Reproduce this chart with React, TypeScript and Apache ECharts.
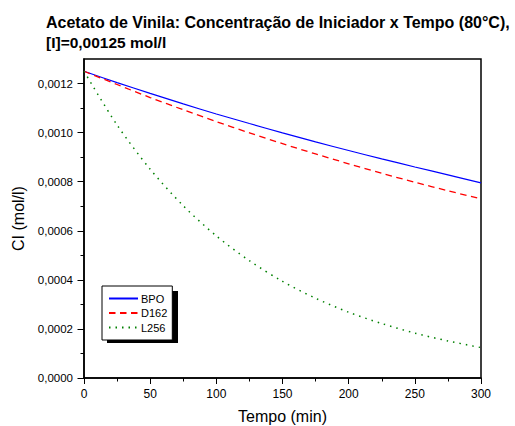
import React, { useEffect, useRef } from "react";
import * as echarts from "echarts";

const tempo = [0, 25, 50, 75, 100, 125, 150, 175, 200, 225, 250, 275, 300];
const bpo = [0.00125, 0.001204, 0.00116, 0.001117, 0.001076, 0.001037, 0.000999, 0.000962, 0.000927, 0.000893, 0.00086, 0.000828, 0.000795];
const d162 = [0.00125, 0.001196, 0.001143, 0.001093, 0.001045, 0.000999, 0.000955, 0.000913, 0.000873, 0.000834, 0.000798, 0.000763, 0.00073];
const l256 = [0.00125, 0.001031, 0.000851, 0.000702, 0.000579, 0.000478, 0.000394, 0.000325, 0.000268, 0.000222, 0.000183, 0.000151, 0.000124];
const yTicks = [0, 0.0002, 0.0004, 0.0006, 0.0008, 0.001, 0.0012];
const seriesNames = ["BPO", "D162", "L256"];
const titleLine1 = "Acetato de Vinila: Concentração de Iniciador x Tempo (80°C),";
const titleLine2 = "[I]=0,00125 mol/l";

const FONT = "'Liberation Sans', Arial, Helvetica, sans-serif";

export default function App() {
  const ref = useRef<HTMLDivElement>(null);
  useEffect(() => {
    if (!ref.current) return;
    const chart = echarts.init(ref.current, undefined, { renderer: "svg" });
    const pair = (ys: number[]) => tempo.map((t, i) => [t, ys[i]]);
    chart.setOption({
      animation: false,
      backgroundColor: "#fff",
      textStyle: { fontFamily: FONT },
      title: {
        text: `{a|${titleLine1}}\n{b|${titleLine2}}`,
        left: 46,
        top: 12,
        padding: 0,
        textStyle: {
          fontFamily: FONT,
          fontWeight: "bold",
          color: "#000",
          rich: {
            a: { fontFamily: FONT, fontSize: 16, fontWeight: "bold", color: "#000", lineHeight: 20.5 },
            b: { fontFamily: FONT, fontSize: 15.5, fontWeight: "bold", color: "#000", lineHeight: 20.5 },
          },
        },
      },
      grid: {
        left: 84,
        top: 59,
        right: 34,
        bottom: 48,
        outerBoundsMode: "none",
        containLabel: false,
        show: true,
        borderColor: "#000",
        borderWidth: 1.5,
        backgroundColor: "transparent",
      },
      legend: {
        orient: "vertical",
        left: 102,
        top: 286,
        data: seriesNames,
        backgroundColor: "#fff",
        borderColor: "#000",
        borderWidth: 1,
        padding: [7, 5, 7, 6],
        itemWidth: 29,
        itemHeight: 10,
        itemGap: 3.5,
        itemStyle: { opacity: 0, borderWidth: 0 },
        textStyle: { fontFamily: FONT, fontSize: 11, color: "#000", lineHeight: 10, padding: [0, 0, 0, -2] },
        z: 10,
      },
      graphic: [
        {
          type: "rect",
          shape: { x: 107, y: 291, width: 71, height: 52 },
          style: { fill: "#000" },
          z: 5,
        },
      ],
      xAxis: {
        type: "value",
        min: 0,
        max: 300,
        interval: 50,
        name: "Tempo (min)",
        nameLocation: "middle",
        nameGap: 30,
        nameTextStyle: { fontFamily: FONT, fontSize: 16, color: "#000" },
        axisLine: { lineStyle: { color: "#000", width: 1.5 } },
        axisTick: { show: true, inside: false, length: 6, lineStyle: { color: "#000", width: 1 } },
        minorTick: { show: true, splitNumber: 2, length: 3.5, lineStyle: { color: "#000", width: 1 } },
        axisLabel: { fontFamily: FONT, fontSize: 12, color: "#000", margin: 10 },
        splitLine: { show: false },
      },
      yAxis: {
        type: "value",
        min: 0,
        max: 0.0013,
        interval: 0.0002,
        name: "CI (mol/l)",
        nameLocation: "middle",
        nameGap: 56,
        nameTextStyle: { fontFamily: FONT, fontSize: 16, color: "#000" },
        axisLine: { lineStyle: { color: "#000", width: 1.5 } },
        axisTick: { show: true, inside: false, length: 6.5, lineStyle: { color: "#000", width: 1 }, customValues: yTicks },
        minorTick: { show: true, splitNumber: 2, length: 3.5, lineStyle: { color: "#000", width: 1 } },
        axisLabel: {
          fontFamily: FONT,
          fontSize: 11.5,
          color: "#000",
          margin: 11,
          customValues: yTicks,
          formatter: (v: number) => v.toFixed(4).replace(".", ","),
        },
        splitLine: { show: false },
      },
      series: [
        {
          name: seriesNames[0],
          type: "line",
          data: pair(bpo),
          smooth: 0.3,
          showSymbol: false,
          symbol: "none",
          lineStyle: { color: "#0000ff", width: 1.2, type: "solid" },
          itemStyle: { color: "#0000ff" },
        },
        {
          name: seriesNames[1],
          type: "line",
          data: pair(d162),
          smooth: 0.3,
          showSymbol: false,
          symbol: "none",
          lineStyle: { color: "#ff0000", width: 1.3, type: [6.5, 4.5] },
          itemStyle: { color: "#ff0000" },
        },
        {
          name: seriesNames[2],
          type: "line",
          data: pair(l256),
          smooth: 0.3,
          showSymbol: false,
          symbol: "none",
          lineStyle: { color: "#008000", width: 1.5, type: [1.5, 5] },
          itemStyle: { color: "#008000" },
        },
      ],
    });
    return () => chart.dispose();
  }, []);
  return <div ref={ref} style={{ width: 515, height: 426, position: "absolute", left: 0, top: 0 }} />;
}
